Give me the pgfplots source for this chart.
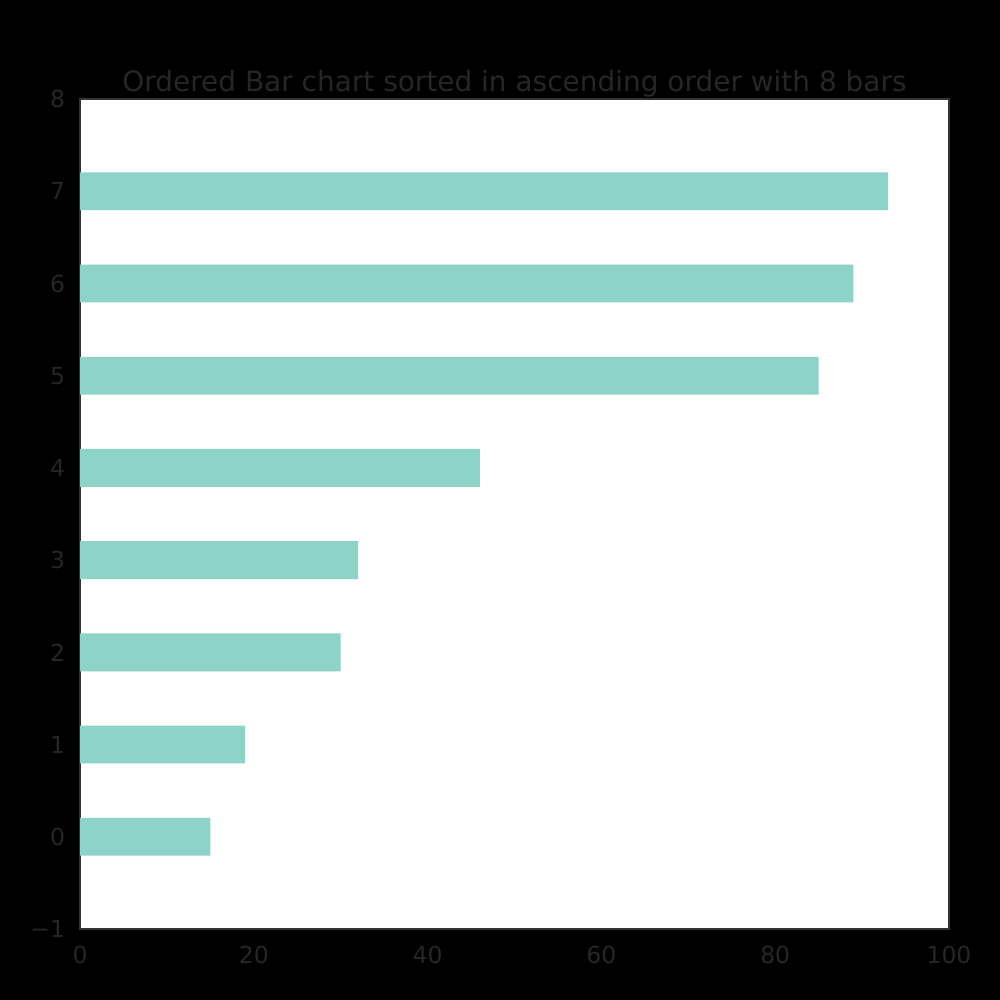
\documentclass[border=0pt]{standalone}
\usepackage{fontspec}
\setmainfont{DejaVu Sans}
\usepackage{pgfplots}
\pgfplotsset{compat=1.18}

\definecolor{barcol}{HTML}{8DD3C7}
\definecolor{txtcol}{HTML}{262626}
\definecolor{spine}{HTML}{333333}

\begin{document}
\begin{tikzpicture}
    \fill[black] (0,0) rectangle (25.4cm,25.4cm);
    \useasboundingbox (0,0) rectangle (25.4cm,25.4cm);
    \begin{axis}[
        at={(2.032cm,1.803cm)}, anchor=south west,
        scale only axis,
        width=22.073cm, height=21.082cm,
        xmin=0, xmax=100,
        ymin=-1, ymax=8,
        xtick={0,20,...,100},
        ytick={-1,0,...,8},
        yticklabels={−1,0,1,2,3,4,5,6,7,8},
        major tick length=0pt,
        axis background/.style={fill=white},
        axis line style={spine, line width=1pt},
        tick label style={font=\fontsize{17}{20}\selectfont, text=txtcol},
        /pgf/number format/assume math mode=true,
        xticklabel style={yshift=-9pt},
        yticklabel style={xshift=-7.3pt},
        title={Ordered Bar chart sorted in ascending order with 8 bars},
        title style={at={(0.5,1)}, anchor=base, yshift=-0.8pt,
            font=\fontsize{20.2}{24}\selectfont, text=txtcol},
        xbar, bar width=0.41, bar shift=0,
    ]
    \addplot[fill=barcol, draw=none] coordinates {
        (15,0) (19,1) (30,2) (32,3) (46,4) (85,5) (89,6) (93,7)
    };
    \end{axis}
\end{tikzpicture}
\end{document}
